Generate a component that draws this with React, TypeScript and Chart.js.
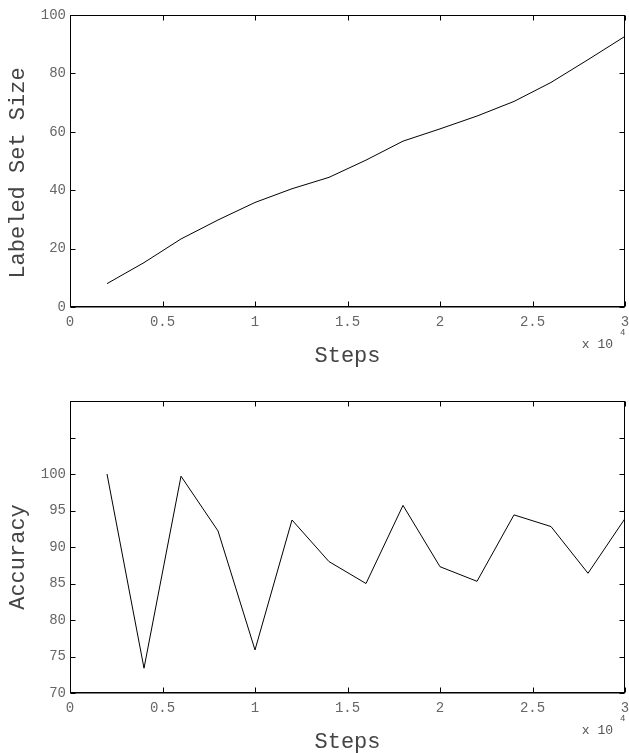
import React, { useEffect, useRef } from "react";
import { Chart, registerables } from "chart.js";

Chart.register(...registerables);

const steps = [2000, 4000, 6000, 8000, 10000, 12000, 14000, 16000, 18000, 20000, 22000, 24000, 26000, 28000, 30000];
const labeledSetSize = [8, 15.2, 23.3, 29.8, 35.8, 40.5, 44.4, 50.3, 56.8, 61, 65.4, 70.4, 76.9, 84.7, 92.7];
const accuracy = [100, 73.4, 99.7, 92.2, 75.9, 93.7, 88, 85, 95.7, 87.3, 85.3, 94.4, 92.8, 86.4, 93.9];

const topYTicks = [0, 20, 40, 60, 80, 100];
const bottomYMax = 110;
const bottomYLabelMax = 100;

const FONT = "'Liberation Mono', 'DejaVu Sans Mono', monospace";

function framePlugin(yTitle: string, yTitleOffset: number) {
  return {
    id: "frame",
    afterDraw(chart: any) {
      const ctx = chart.ctx;
      const a = chart.chartArea;
      const L = Math.round(a.left) + 0.5;
      const R = Math.round(a.right) - 0.5;
      const T = Math.round(a.top) + 0.5;
      const B = Math.round(a.bottom) - 0.5;
      ctx.save();
      ctx.strokeStyle = "#000";
      ctx.lineWidth = 1;
      ctx.strokeRect(L, T, R - L, B - T);
      ctx.beginPath();
      ctx.moveTo(L, B + 0.5);
      ctx.lineTo(R, B + 0.5);
      ctx.stroke();
      const tl = 5;
      ctx.beginPath();
      const xs = chart.scales.x;
      xs.ticks.forEach((t: any) => {
        const px = Math.round(xs.getPixelForValue(t.value)) + 0.5;
        ctx.moveTo(px, B);
        ctx.lineTo(px, B - tl);
        ctx.moveTo(px, T);
        ctx.lineTo(px, T + tl);
      });
      const ys = chart.scales.y;
      ys.ticks.forEach((t: any) => {
        const py = Math.round(ys.getPixelForValue(t.value)) + 0.5;
        ctx.moveTo(L, py);
        ctx.lineTo(L + tl, py);
        ctx.moveTo(R, py);
        ctx.lineTo(R - tl, py);
      });
      ctx.stroke();

      // axis titles
      ctx.fillStyle = "#444";
      ctx.font = `22px ${FONT}`;
      ctx.textAlign = "center";
      ctx.textBaseline = "middle";
      ctx.fillText("Steps", (a.left + a.right) / 2, a.bottom + 49);
      ctx.save();
      ctx.translate(18, (a.top + a.bottom) / 2 + yTitleOffset);
      ctx.rotate(-Math.PI / 2);
      ctx.fillText(yTitle, 0, 0);
      ctx.restore();

      // exponent label
      ctx.fillStyle = "#555";
      ctx.font = `13px ${FONT}`;
      ctx.textAlign = "right";
      ctx.fillText("x 10", a.right - 12, a.bottom + 38);
      ctx.font = `9px ${FONT}`;
      ctx.textAlign = "left";
      ctx.fillText("4", a.right - 5, a.bottom + 26);
      ctx.restore();
    },
  };
}

function makeConfig(values: number[], yMin: number, yMax: number, step: number, labelMax: number, yTitle: string, padTop: number, xHeight: number, titleOff: number) {
  return {
    type: "line" as const,
    data: {
      datasets: [
        {
          data: steps.map((s, i) => ({ x: s, y: values[i] })),
          borderColor: "#000",
          borderWidth: 1,
          pointRadius: 0,
          tension: 0,
          fill: false,
        },
      ],
    },
    options: {
      responsive: false,
      animation: false,
      events: [],
      layout: { autoPadding: false, padding: { top: padTop, right: 4, left: 0, bottom: 0 } },
      plugins: { legend: { display: false }, tooltip: { enabled: false } },
      scales: {
        x: {
          type: "linear" as const,
          min: 0,
          max: 30000,
          grid: { display: false, drawTicks: false },
          border: { display: false },
          afterFit: (s: any) => { s.height = xHeight; s.paddingLeft = 0; s.paddingRight = 0; },
          ticks: {
            stepSize: 5000,
            padding: 7,
            maxRotation: 0,
            autoSkip: false,
            color: "#666",
            font: { family: FONT, size: 14 },
            callback: (v: any) => String(Number(v) / 10000),
          },
        },
        y: {
          type: "linear" as const,
          min: yMin,
          max: yMax,
          grid: { display: false, drawTicks: false },
          border: { display: false },
          afterFit: (s: any) => { s.width = 70; s.paddingTop = 0; s.paddingBottom = 0; },
          ticks: {
            stepSize: step,
            padding: 4,
            autoSkip: false,
            color: "#666",
            font: { family: FONT, size: 14 },
            callback: (v: any) => (Number(v) > labelMax ? "" : String(v)),
          },
        },
      },
    },
    plugins: [framePlugin(yTitle, titleOff)],
  };
}

function ChartBox({ cfg, top, height }: { cfg: any; top: number; height: number }) {
  const ref = useRef<HTMLCanvasElement | null>(null);
  useEffect(() => {
    if (!ref.current) return;
    const c = new Chart(ref.current, cfg);
    return () => c.destroy();
  }, []);
  return (
    <canvas
      ref={ref}
      width={629}
      height={height}
      style={{ position: "absolute", left: 0, top, width: 629, height }}
    />
  );
}

export default function App() {
  const topCfg = makeConfig(labeledSetSize, topYTicks[0], topYTicks[topYTicks.length - 1], 20, 1000, "Labeled Set Size", 15, 69, 12);
  const botCfg = makeConfig(accuracy, 70, bottomYMax, 5, bottomYLabelMax, "Accuracy", 25, 60, 10);
  return (
    <div style={{ position: "absolute", left: 0, top: 0, width: 629, height: 753, background: "#fff" }}>
      <ChartBox cfg={topCfg} top={0} height={376} />
      <ChartBox cfg={botCfg} top={376} height={377} />
    </div>
  );
}
